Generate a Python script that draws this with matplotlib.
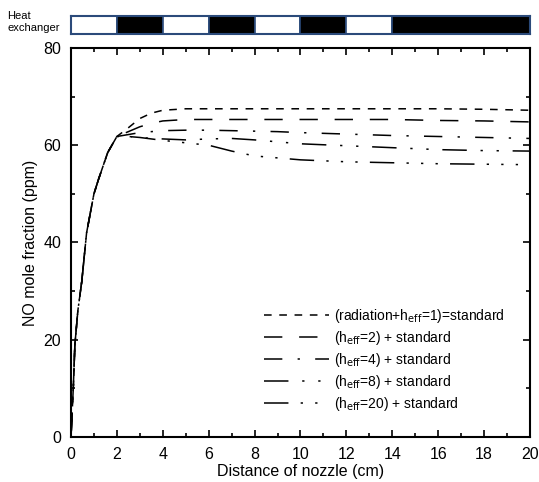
import numpy as np
import matplotlib
matplotlib.use("Agg")
import matplotlib.pyplot as plt
from matplotlib.ticker import MultipleLocator

plt.rcParams['font.family'] = ['Liberation Sans', 'DejaVu Sans']

# shared rise near the nozzle
x_rise = [0, 0.05, 0.1, 0.17, 0.3, 0.47, 0.68, 1.0, 1.2, 1.6, 2.0]
y_rise = [0, 5, 10, 19, 26, 32, 42, 50, 53, 58.5, 61.8]

# after x = 2 cm the curves separate
x_tail = [2.5, 3, 3.5, 4, 5, 6, 7, 8, 9, 10, 12, 14, 16, 18, 20]
y_std = [63.6, 65.5, 66.6, 67.2, 67.5, 67.5, 67.5, 67.5, 67.5, 67.5, 67.5, 67.5, 67.5, 67.4, 67.2]
y_h2 = [62.8, 63.8, 64.5, 65.0, 65.3, 65.3, 65.3, 65.3, 65.3, 65.3, 65.3, 65.3, 65.1, 65.0, 64.8]
y_h4 = [62.2, 62.6, 62.8, 63.0, 63.1, 63.1, 63.0, 62.9, 62.8, 62.6, 62.3, 62.0, 61.8, 61.6, 61.4]
y_h8 = [61.8, 61.6, 61.4, 61.3, 61.1, 61.3, 61.4, 61.1, 60.7, 60.3, 59.9, 59.5, 59.1, 58.9, 58.8]
y_h20 = [61.8, 61.6, 61.3, 61.0, 60.5, 60.0, 58.8, 57.8, 57.4, 57.0, 56.6, 56.4, 56.2, 56.1, 56.0]

labels = [r'(radiation+h$_{\mathrm{eff}}$=1)=standard',
          r'(h$_{\mathrm{eff}}$=2) + standard',
          r'(h$_{\mathrm{eff}}$=4) + standard',
          r'(h$_{\mathrm{eff}}$=8) + standard',
          r'(h$_{\mathrm{eff}}$=20) + standard']
dashes = [(5, 5),
          (12, 11),
          (12, 10, 1.5, 10),
          (16, 9, 1.5, 9, 1.5, 9),
          (16, 8, 1.5, 8, 1.5, 8, 1.5, 8)]

# heat exchanger segments (cm), 1 = black (active)
hx_edges = [0, 2, 4, 6, 8, 10, 12, 14, 20]
hx_state = [0, 1, 0, 1, 0, 1, 0, 1]

fig = plt.figure(figsize=(5.39, 4.82), dpi=100)
ax = fig.add_axes([0.1317, 0.0934, 0.8516, 0.807])

xs = np.array(x_rise + x_tail)
for ys, lab, d in zip([y_std, y_h2, y_h4, y_h8, y_h20], labels, dashes):
    ax.plot(xs, np.array(y_rise + ys), color='black', lw=1.1, dashes=d, label=lab)

ax.set_xlim(0, 20)
ax.set_ylim(0, 80)
ax.xaxis.set_major_locator(MultipleLocator(2))
ax.xaxis.set_minor_locator(MultipleLocator(1))
ax.yaxis.set_major_locator(MultipleLocator(20))
ax.yaxis.set_minor_locator(MultipleLocator(10))
ax.tick_params(which='both', direction='in', top=True, right=True, width=1.2)
ax.tick_params(which='major', length=5, labelsize=11.5, pad=7)
ax.tick_params(which='minor', length=3)
for s in ax.spines.values():
    s.set_linewidth(1.5)
ax.set_xlabel('Distance of nozzle (cm)', fontsize=11.5, labelpad=2)
ax.set_ylabel('NO mole fraction (ppm)', fontsize=11.5, labelpad=4)

leg = ax.legend(loc='upper left', bbox_to_anchor=(0.42, 0.335), frameon=False,
                fontsize=10, handlelength=4.7, handletextpad=0.35,
                labelspacing=0.3, borderpad=0, borderaxespad=0)

# heat exchanger bar
hx = fig.add_axes([0.1317, 0.9295, 0.8516, 0.037])
for i, st in enumerate(hx_state):
    hx.barh(0, hx_edges[i + 1] - hx_edges[i], left=hx_edges[i], height=1,
            color='black' if st else 'white', edgecolor='#2b4a7a', lw=1.2)
hx.set_xlim(0, 20)
hx.set_ylim(-0.5, 0.5)
hx.set_xticks([])
hx.set_yticks([])
for s in hx.spines.values():
    s.set_color('#2b4a7a')
    s.set_linewidth(1.5)
fig.text(0.013, 0.955, 'Heat\nexchanger', fontsize=8, ha='left', va='center',
         linespacing=1.25)

fig.savefig('out.png', dpi=100)
